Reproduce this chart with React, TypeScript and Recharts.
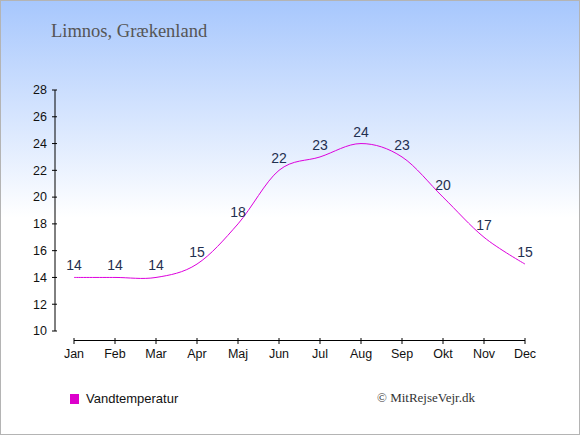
import React from 'react';
import { LineChart, Line, XAxis, YAxis, LabelList, ReferenceLine } from 'recharts';

const months = ['Jan', 'Feb', 'Mar', 'Apr', 'Maj', 'Jun', 'Jul', 'Aug', 'Sep', 'Okt', 'Nov', 'Dec'];
const waterTemp = [14, 14, 14, 15, 18, 22, 23, 24, 23, 20, 17, 15];
const yTicks = [10, 12, 14, 16, 18, 20, 22, 24, 26, 28];

const data = months.map((m, i) => ({ month: m, temp: waterTemp[i] }));

// Catmull-Rom style cardinal curve (tension 0), same as d3.curveCardinal
function cardinalCurve(context: any) {
  const k = 1 / 6;
  const s: any = { _line: NaN, _point: 0, _x0: NaN, _x1: NaN, _x2: NaN, _y0: NaN, _y1: NaN, _y2: NaN };
  const pt = (x: number, y: number) => {
    context.bezierCurveTo(
      s._x1 + k * (s._x2 - s._x0),
      s._y1 + k * (s._y2 - s._y0),
      s._x2 + k * (s._x1 - x),
      s._y2 + k * (s._y1 - y),
      s._x2,
      s._y2
    );
  };
  return {
    areaStart() { s._line = 0; },
    areaEnd() { s._line = NaN; },
    lineStart() {
      s._x0 = s._x1 = s._x2 = s._y0 = s._y1 = s._y2 = NaN;
      s._point = 0;
    },
    lineEnd() {
      switch (s._point) {
        case 2: context.lineTo(s._x2, s._y2); break;
        case 3: pt(s._x1, s._y1); break;
      }
      if (s._line || (s._line !== 0 && s._point === 1)) context.closePath();
      s._line = 1 - s._line;
    },
    point(x: number, y: number) {
      x = +x; y = +y;
      switch (s._point) {
        case 0: s._point = 1; s._line ? context.lineTo(x, y) : context.moveTo(x, y); break;
        case 1: s._point = 2; s._x1 = x; s._y1 = y; break;
        case 2: s._point = 3; pt(x, y); break;
        default: pt(x, y); break;
      }
      s._x0 = s._x1; s._x1 = s._x2; s._x2 = x;
      s._y0 = s._y1; s._y1 = s._y2; s._y2 = y;
    },
  };
}

const FONT = "'Liberation Sans', Arial, sans-serif";

const MonthTick = (props: any) => {
  const { x, y, payload } = props;
  return (
    <g>
      <line x1={x} x2={x} y1={y + 7} y2={y + 13} stroke="#000" strokeWidth={1} />
      <text x={x} y={y + 27} textAnchor="middle" fontSize={12.5} fill="#111" fontFamily={FONT}>
        {payload.value}
      </text>
    </g>
  );
};

const ValueTick = (props: any) => {
  const { x, y, payload } = props;
  return (
    <g>
      <line x1={x - 3} x2={x + 2} y1={y} y2={y} stroke="#000" strokeWidth={1} />
      <text x={x - 8} y={y + 4.3} textAnchor="end" fontSize={12.5} fill="#111" fontFamily={FONT}>
        {payload.value}
      </text>
    </g>
  );
};

const AxisLineShape = (p: any) => (
  <line x1={p.x1} x2={p.x2} y1={p.y1 + 9.5} y2={p.y2 + 9.5} stroke="#000" strokeWidth={1} />
);

export default function App() {
  return (
    <div
      style={{
        position: 'absolute',
        left: 0,
        top: 0,
        width: 580,
        height: 435,
        boxSizing: 'border-box',
        border: '1px solid #b4b4b4',
        background: 'linear-gradient(to bottom, #a7c7fd 0%, #ffffff 50%, #ffffff 100%)',
        overflow: 'hidden',
        fontFamily: FONT,
      }}
    >
      <div
        style={{
          position: 'absolute',
          left: 50,
          top: 20,
          fontFamily: "'Liberation Serif', 'Times New Roman', serif",
          fontSize: 18.5,
          color: '#555',
          whiteSpace: 'nowrap',
        }}
      >
        Limnos, Grækenland
      </div>
      <div style={{ position: 'absolute', left: -1, top: -1 }}>
        <LineChart width={580} height={435} data={data} margin={{ top: 90, right: 55, bottom: 74, left: 15 }}>
          <XAxis
            dataKey="month"
            padding={{ left: 19, right: 0 }}
            axisLine={false}
            tickLine={false}
            tickSize={0}
            tickMargin={0}
            tick={<MonthTick />}
            interval={0}
            height={30}
          />
          <YAxis
            domain={[10, 28]}
            ticks={yTicks}
            interval={0}
            width={40}
            axisLine={{ stroke: '#000' }}
            tickLine={false}
            tickSize={0}
            tickMargin={0}
            tick={<ValueTick />}
          />
          <ReferenceLine
            segment={[{ x: 'Jan', y: 10 }, { x: 'Dec', y: 10 }]}
            ifOverflow="visible"
            shape={AxisLineShape}
          />
          <Line
            dataKey="temp"
            type={cardinalCurve as any}
            stroke="#dd00dd"
            strokeWidth={1}
            dot={false}
            activeDot={false}
            isAnimationActive={false}
          >
            <LabelList
              dataKey="temp"
              position="top"
              offset={7}
              fontSize={14}
              fill="#1f3050"
              fontFamily={FONT}
            />
          </Line>
        </LineChart>
      </div>
      <div style={{ position: 'absolute', left: 69, top: 393, width: 9, height: 10, background: '#dd00cc' }} />
      <div
        style={{
          position: 'absolute',
          left: 85,
          top: 390,
          fontSize: 13,
          color: '#111',
          whiteSpace: 'nowrap',
        }}
      >
        Vandtemperatur
      </div>
      <div
        style={{
          position: 'absolute',
          left: 376,
          top: 389,
          fontSize: 13,
          color: '#333',
          whiteSpace: 'nowrap',
          fontFamily: "'Liberation Serif', 'Times New Roman', serif",
        }}
      >
        © MitRejseVejr.dk
      </div>
    </div>
  );
}
